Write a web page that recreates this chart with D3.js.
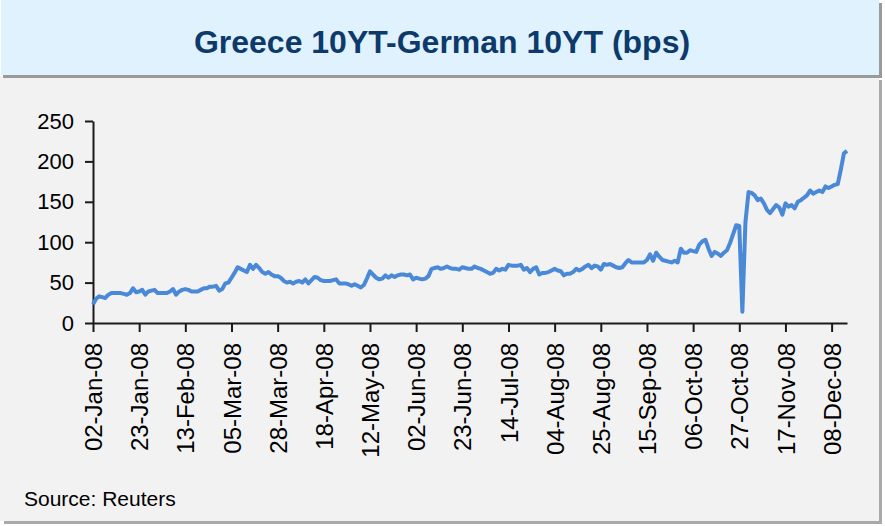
<!DOCTYPE html>
<html>
<head>
<meta charset="utf-8">
<script src="https://d3js.org/d3.v7.min.js"></script>
<style>
  body { margin: 0; background: #ffffff; }
  .chart text { font-family: "Liberation Sans", Arial, sans-serif; }
</style>
</head>
<body>
<div class="chart"></div>
<script>
// Greece 10YT - German 10YT spread, one value per trading day (bps)
var spreadValues = [
  23, 30, 33, 32, 31, 35, 37, 37, 37, 37, 36, 35, 37, 43, 38, 39, 41, 35, 39, 40,
  41, 37, 37, 37, 37, 39, 42, 35, 39, 41, 42, 41, 39, 39, 39, 41, 43, 43, 45, 45,
  46, 40, 42, 49, 50, 56, 62, 69, 67, 65, 63, 72, 67, 72, 68, 63, 61, 63, 60, 58,
  58, 56, 52, 50, 51, 49, 51, 52, 50, 54, 49, 53, 57, 56, 53, 52, 52, 52, 53, 54,
  49, 49, 49, 48, 46, 48, 46, 44, 47, 55, 64, 60, 56, 54, 55, 59, 56, 59, 57, 59,
  60, 60, 59, 60, 54, 56, 55, 54, 55, 58, 67, 68, 69, 67, 68, 70, 68, 67, 67, 66,
  69, 68, 67, 67, 70, 68, 67, 65, 63, 61, 62, 67, 65, 67, 66, 72, 71, 71, 71, 72,
  66, 68, 63, 67, 69, 60, 62, 62, 63, 65, 67, 65, 64, 59, 61, 61, 63, 67, 65, 67,
  70, 72, 68, 71, 70, 66, 73, 72, 73, 71, 69, 68, 69, 74, 78, 75, 75, 75, 75, 75,
  78, 85, 77, 87, 82, 78, 77, 76, 75, 77, 75, 92, 87, 87, 90, 89, 88, 97, 101, 103,
  92, 83, 88, 86, 83, 87, 90, 99, 110, 121, 120, 14, 125, 162, 161, 158, 152, 154, 148, 140,
  136, 141, 146, 143, 134, 148, 144, 146, 142, 150, 152, 155, 158, 164, 160, 162, 164, 162, 169, 167,
  169, 171, 172, 190, 210, 213
];

// x axis labels, one every 15 trading days
var tickLabels = [
  "02-Jan-08", "23-Jan-08", "13-Feb-08", "05-Mar-08", "28-Mar-08", "18-Apr-08",
  "12-May-08", "02-Jun-08", "23-Jun-08", "14-Jul-08", "04-Aug-08", "25-Aug-08",
  "15-Sep-08", "06-Oct-08", "27-Oct-08", "17-Nov-08", "08-Dec-08"
];
var tickStep = 15;
var yTicks = [0, 50, 100, 150, 200, 250];

var svgWidth = 885;
var svgHeight = 526;

var margin = {
  top: 121,
  left: 93,
  bottom: 203
};

var width = 754;
var height = svgHeight - margin.top - margin.bottom;

var svg = d3
  .select(".chart")
  .append("svg")
  .attr("width", svgWidth)
  .attr("height", svgHeight);

// panel background with shadow
svg.append("rect")
  .attr("x", 4).attr("y", 80)
  .attr("width", 878).attr("height", 444)
  .attr("fill", "#a9a9a9");
svg.append("rect")
  .attr("x", 0).attr("y", 76)
  .attr("width", 879).attr("height", 445)
  .attr("fill", "#f2f2f2");

// title box
svg.append("rect")
  .attr("x", 3).attr("y", 3)
  .attr("width", 879).attr("height", 75)
  .attr("fill", "#9a9a9a");
svg.append("rect")
  .attr("x", 1).attr("y", 0)
  .attr("width", 878).attr("height", 75)
  .attr("fill", "#dff2fe");

svg.append("text")
  .attr("x", 442)
  .attr("y", 53)
  .attr("text-anchor", "middle")
  .attr("font-size", "32px")
  .attr("font-weight", "bold")
  .attr("fill", "#0d3a6b")
  .text("Greece 10YT-German 10YT (bps)");

var chartGroup = svg.append("g")
  .attr("transform", `translate(${margin.left}, ${margin.top})`);

// scales
var xLinearScale = d3.scaleLinear()
  .domain([0, spreadValues.length - 1])
  .range([0, width]);

var yLinearScale = d3.scaleLinear()
  .domain([0, 250])
  .range([height, 0]);

var bottomAxis = d3.axisBottom(xLinearScale)
  .tickValues(tickLabels.map((d, i) => i * tickStep))
  .tickFormat((d, i) => tickLabels[i])
  .tickSize(9)
  .tickSizeOuter(0);

var leftAxis = d3.axisLeft(yLinearScale)
  .tickValues(yTicks)
  .tickSize(8)
  .tickSizeOuter(0);

// x axis
var xAxis = chartGroup.append("g")
  .attr("transform", `translate(0, ${height})`)
  .call(bottomAxis);

// y axis
var yAxis = chartGroup.append("g")
  .call(leftAxis);

chartGroup.selectAll(".domain, .tick line")
  .attr("stroke", "#1a1a1a")
  .attr("stroke-width", 2);

chartGroup.selectAll(".tick text")
  .attr("font-family", "Liberation Sans, Arial, sans-serif")
  .attr("fill", "#000");

xAxis.selectAll("text")
  .attr("font-size", "24px")
  .attr("transform", "rotate(-90)")
  .attr("text-anchor", "end")
  .attr("x", -20)
  .attr("y", 0)
  .attr("dy", "0.36em");

yAxis.selectAll("text")
  .attr("font-size", "22px")
  .attr("x", -19);

// spread line
var line = d3.line()
  .x((d, i) => xLinearScale(i))
  .y(d => yLinearScale(d));

chartGroup.append("path")
  .datum(spreadValues)
  .attr("fill", "none")
  .attr("stroke", "#4a89d8")
  .attr("stroke-width", 4)
  .attr("stroke-linejoin", "round")
  .attr("d", line);

// source
svg.append("text")
  .attr("x", 24)
  .attr("y", 506)
  .attr("font-size", "21px")
  .attr("fill", "#000")
  .text("Source: Reuters");
</script>
</body>
</html>
